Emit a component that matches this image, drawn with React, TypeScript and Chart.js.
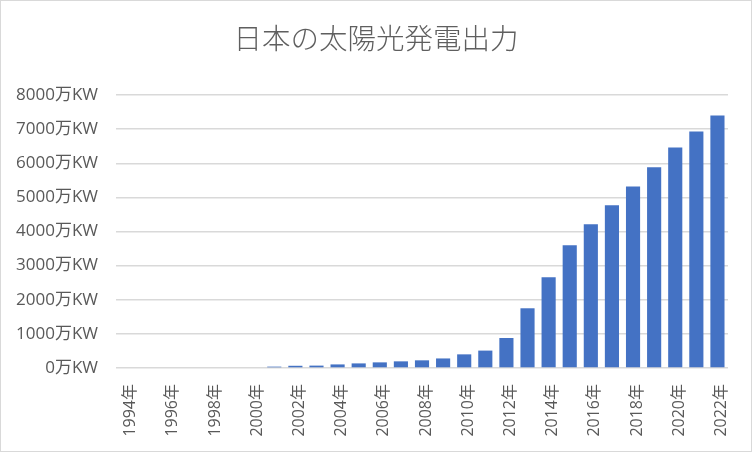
import React, { useEffect, useRef } from "react";
import { Chart, registerables } from "chart.js";

Chart.register(...registerables);

const years: string[] = [
  "1994年", "1995年", "1996年", "1997年", "1998年", "1999年", "2000年",
  "2001年", "2002年", "2003年", "2004年", "2005年", "2006年", "2007年",
  "2008年", "2009年", "2010年", "2011年", "2012年", "2013年", "2014年",
  "2015年", "2016年", "2017年", "2018年", "2019年", "2020年", "2021年",
  "2022年",
];

// 万KW
const output: number[] = [
  0, 0, 0, 0, 0, 0, 0,
  40, 65, 70, 105, 135, 165, 195,
  225, 280, 400, 510, 880, 1750, 2660,
  3600, 4210, 4770, 5320, 5880, 6460, 6930,
  7400,
];

const yTicks: number[] = [0, 1000, 2000, 3000, 4000, 5000, 6000, 7000, 8000];

const FONT = "'Open Sans', 'Noto Sans CJK JP', sans-serif";
const TEXT = "#595959";

export default function App() {
  const ref = useRef<HTMLCanvasElement | null>(null);

  useEffect(() => {
    if (!ref.current) return;
    const chart = new Chart(ref.current, {
      type: "bar",
      data: {
        labels: years,
        datasets: [
          {
            label: "出力",
            data: output,
            backgroundColor: "#4472C4",
            borderWidth: 0,
            barPercentage: 0.67,
            categoryPercentage: 1,
          },
        ],
      },
      options: {
        responsive: false,
        animation: false,
        devicePixelRatio: 1,
        layout: { padding: { left: 0, right: 0, top: 0, bottom: 0 } },
        plugins: {
          legend: { display: false },
          tooltip: { enabled: false },
          title: {
            display: true,
            text: "日本の太陽光発電出力",
            color: "#5f5f5f",
            font: { family: FONT, size: 28.5, weight: "200" as any },
            padding: { top: 24, bottom: 36.8 },
          },
        },
        scales: {
          x: {
            grid: { display: false },
            border: { display: false },
            ticks: {
              autoSkip: false,
              maxRotation: 90,
              minRotation: 90,
              padding: 8,
              labelOffset: 4,
              color: TEXT,
              font: { family: FONT, size: 16 },
              callback: (_v: any, i: number) => (i % 2 === 0 ? years[i] : ""),
            },
            afterFit: (s: any) => {
              s.height = 84;
            },
          },
          y: {
            min: 0,
            max: 8000,
            afterBuildTicks: (s: any) => {
              s.ticks = yTicks.map((v) => ({ value: v }));
            },
            grid: { color: "#d9d9d9", lineWidth: 1.4, drawTicks: false },
            border: { display: false },
            ticks: {
              padding: 18,
              color: TEXT,
              font: { family: FONT, size: 17 },
              callback: (v: any) => `${v}万KW`,
            },
            afterFit: (s: any) => {
              s.width = 116;
            },
          },
          ySpacer: {
            position: "right",
            min: 0,
            max: 8000,
            grid: { display: false, drawTicks: false },
            border: { display: false },
            ticks: { display: false },
            afterFit: (s: any) => {
              s.width = 24;
            },
          },
        },
      },
    });
    return () => chart.destroy();
  }, []);

  return (
    <div style={{ position: "fixed", left: 0, top: 0, width: 752, height: 452, background: "#fff" }}>
      <canvas ref={ref} width={752} height={452} style={{ position: "absolute", left: 0, top: 0 }} />
      <div
        style={{
          position: "absolute",
          left: 0,
          top: 0,
          width: 752,
          height: 452,
          boxSizing: "border-box",
          border: "1px solid #d9d9d9",
          pointerEvents: "none",
        }}
      />
    </div>
  );
}
